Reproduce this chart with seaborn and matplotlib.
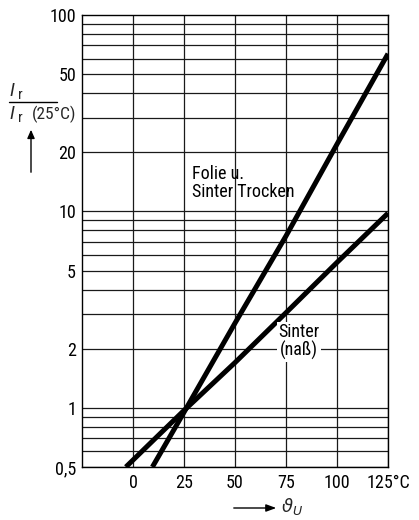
import matplotlib
matplotlib.use("Agg")
import matplotlib.pyplot as plt
import matplotlib.lines as mlines
import matplotlib.patches as mpatches
import numpy as np
import pandas as pd
import seaborn as sns

# ---- data ----
folie_x = [9.5, 25, 50, 75, 100, 125]
folie_y = [0.5, 0.95, 2.7, 7.5, 22, 63.5]
sinter_x = [-3.5, 25, 50, 75, 100, 125]
sinter_y = [0.5, 0.97, 1.7, 3.05, 5.5, 9.8]
x_ticks = [0, 25, 50, 75, 100, 125]
x_tick_labels = ["0", "25", "50", "75", "100", "125°C"]
y_ticks = [0.5, 1, 2, 5, 10, 20, 50, 100]
y_tick_labels = ["0,5", "1", "2", "5", "10", "20", "50", "100"]
label_folie = "Folie u.\nSinter Trocken"
label_sinter = "Sinter\n(naß)"

sns.set_theme(style="white")
plt.rcParams["font.family"] = ["Roboto Condensed", "Liberation Sans", "DejaVu Sans"]
plt.rcParams["mathtext.fontset"] = "dejavusans"

W, H = 419, 520
fig = plt.figure(figsize=(W / 100, H / 100), dpi=100)
fig.patch.set_facecolor("white")
ax = fig.add_axes([82 / W, 1 - 467 / H, (388 - 82) / W, (467 - 15) / H])

df = pd.concat([
    pd.DataFrame({"x": folie_x, "y": folie_y, "s": "folie"}),
    pd.DataFrame({"x": sinter_x, "y": sinter_y, "s": "sinter"}),
])
sns.lineplot(data=df, x="x", y="y", units="s", estimator=None, color="black",
             linewidth=3.6, ax=ax, legend=False, solid_capstyle="butt")

ax.set_yscale("log")
ax.set_xlim(-25, 125)
ax.set_ylim(0.5, 100)

for d in [0.1, 1, 10]:
    for m in range(1, 10):
        v = m * d
        if 0.5 <= v <= 100:
            ax.axhline(v, color="#1a1a1a", lw=0.9, zorder=0)
for v in x_ticks:
    ax.axvline(v, color="#1a1a1a", lw=0.9, zorder=0)

for s in ax.spines.values():
    s.set_color("black")
    s.set_linewidth(1.0)

ax.set_xticks(x_ticks)
ax.set_xticklabels(x_tick_labels)
ax.set_yticks(y_ticks)
ax.set_yticklabels(y_tick_labels)
ax.yaxis.set_minor_locator(matplotlib.ticker.NullLocator())
ax.tick_params(axis="both", length=0, labelsize=13, colors="black")
ax.tick_params(axis="x", pad=5)
ax.tick_params(axis="y", pad=4.3)
ax.set_xlabel("")
ax.set_ylabel("")

ax.text(28.9, 13.9, label_folie, ha="left", va="center", fontsize=13,
        linespacing=1.0, color="black")
ax.text(81.4, 2.17, label_sinter, ha="center", va="center", fontsize=13,
        linespacing=1.0, color="black",
        bbox=dict(facecolor="white", edgecolor="none", pad=1.0))

def fx(px):
    return px / W

def fy(py):
    return 1 - py / H

# y axis label as fraction
fig.text(fx(9), fy(96), "I", fontsize=14, style="italic", ha="left", va="baseline")
fig.text(fx(18), fy(99), "r", fontsize=11, ha="left", va="baseline")
fig.add_artist(mlines.Line2D([fx(9), fx(57)], [fy(102), fy(102)], color="black", lw=1.0))
fig.text(fx(9), fy(119), "I", fontsize=14, style="italic", ha="left", va="baseline")
fig.text(fx(18), fy(122), "r", fontsize=11, ha="left", va="baseline")
fig.text(fx(32), fy(119), "(25°C)", fontsize=12.5, ha="left", va="baseline")
fig.add_artist(mpatches.FancyArrowPatch(
    (fx(31), fy(175)), (fx(31), fy(127)), transform=fig.transFigure,
    arrowstyle="-|>,head_length=5,head_width=2.2", color="black", lw=1.0))

# x axis label
fig.add_artist(mpatches.FancyArrowPatch(
    (fx(231), fy(508)), (fx(279), fy(508)), transform=fig.transFigure,
    arrowstyle="-|>,head_length=6,head_width=2.2", color="black", lw=1.0))
fig.text(fx(281), fy(512), r"$\vartheta_U$", fontsize=13, ha="left", va="baseline")

fig.savefig("out.png", dpi=100, facecolor="white")
